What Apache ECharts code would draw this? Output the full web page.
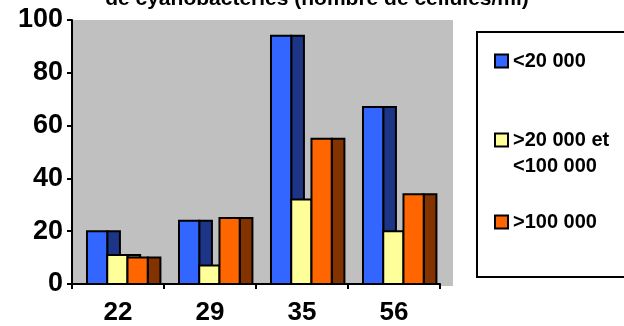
<!DOCTYPE html>
<html>
<head>
<meta charset="utf-8">
<script src="https://cdn.jsdelivr.net/npm/echarts@6/dist/echarts.min.js"></script>
<style>
  html, body { margin: 0; padding: 0; background: #fff; }
  #chart { width: 624px; height: 326px; }
</style>
</head>
<body>
<div id="chart"></div>
<script>
// categories on the x axis
const categories = ['22', '29', '35', '56'];
// series names (legend)
const seriesNames = ['<20 000', '>20 000 et <100 000', '>100 000'];
// values per series, one per category
const lowValues = [20, 24, 94, 67];
const midValues = [11, 7, 32, 20];
const highValues = [10, 25, 55, 34];
const yTicks = [0, 20, 40, 60, 80, 100];

const FONT = "'Liberation Sans', Arial, sans-serif";

// front / side colours (excel-ish 3d column)
const frontColors = ['#3366ff', '#ffff99', '#ff6600'];
const sideColors = ['#1c3587', '#8a8a52', '#833300'];

const chart = echarts.init(document.getElementById('chart'));

const makeRender = (k) => (params, api) => {
  const idx = api.value(0);
  const top = api.coord([idx, api.value(1)]);
  const base = api.coord([idx, 0]);
  const band = api.size([1, 0])[0];
  const start = top[0] - band / 2;
  const frontW = band * 0.22;
  const sideW = band * 0.138;
  const x = start + band * 0.163 + k * frontW;
  const h = base[1] - top[1];
  const stroke = { stroke: '#000', lineWidth: 2 };
  return {
    type: 'group',
    children: [
      {
        type: 'rect',
        z2: k * 10,
        shape: { x: x + frontW, y: top[1], width: sideW, height: h },
        style: { fill: sideColors[k], ...stroke }
      },
      {
        type: 'rect',
        z2: k * 10 + 1,
        shape: { x: x, y: top[1], width: frontW, height: h },
        style: { fill: frontColors[k], ...stroke }
      }
    ]
  };
};

const allValues = [lowValues, midValues, highValues];

const legendBase = {
  orient: 'vertical',
  left: 494,
  padding: 0,
  icon: 'rect',
  itemWidth: 13,
  itemHeight: 13,
  selectedMode: false,
  itemStyle: { borderColor: '#000', borderWidth: 2 },
  textStyle: { fontFamily: FONT, fontWeight: 'bold', fontSize: 20, color: '#000', lineHeight: 20 }
};

const option = {
  animation: false,
  grid: {
    left: 72, right: 184, top: 20, bottom: 40,
    show: true, backgroundColor: '#c0c0c0', borderWidth: 0
  },
  legend: [
    { ...legendBase, top: 51, data: [seriesNames[0]] },
    { ...legendBase, top: 130, data: [seriesNames[1]], formatter: () => '>20 000 et' },
    { ...legendBase, top: 212, data: [seriesNames[2]] }
  ],
  graphic: [
    {
      type: 'rect', z: -1,
      shape: { x: 440, y: 20, width: 13, height: 266 },
      style: { fill: '#c0c0c0' }
    },
    {
      type: 'rect',
      shape: { x: 477, y: 32, width: 160, height: 245 },
      style: { fill: '#fff', stroke: '#000', lineWidth: 2 }
    },
    {
      type: 'text', x: 513, y: 166,
      style: {
        text: '<100 000', fontFamily: FONT, fontWeight: 'bold', fontSize: 20,
        fill: '#000', verticalAlign: 'middle'
      }
    },
    {
      type: 'text', x: 317, y: 10,
      style: {
        text: 'de cyanobactéries (nombre de cellules/ml)', fontFamily: FONT,
        fontWeight: 'bold', fontSize: 21, fill: '#000', align: 'center', verticalAlign: 'bottom'
      }
    }
  ],
  xAxis: {
    type: 'category',
    data: categories,
    boundaryGap: true,
    axisLine: { lineStyle: { color: '#000', width: 2 } },
    axisTick: { show: true, length: 5, lineStyle: { color: '#000', width: 2 } },
    axisLabel: { fontFamily: FONT, fontWeight: 'bold', fontSize: 26, color: '#000', margin: 16 },
    splitLine: { show: false }
  },
  yAxis: {
    type: 'value',
    min: yTicks[0],
    max: yTicks[yTicks.length - 1],
    interval: 20,
    axisLine: { show: true, lineStyle: { color: '#000', width: 2 } },
    axisTick: { show: true, length: 5, lineStyle: { color: '#000', width: 2 } },
    axisLabel: { fontFamily: FONT, fontWeight: 'bold', fontSize: 27, color: '#000', margin: 9 },
    splitLine: { show: false }
  },
  series: allValues.map((vals, k) => ({
    name: seriesNames[k],
    type: 'custom',
    renderItem: makeRender(k),
    itemStyle: { color: frontColors[k] },
    encode: { x: 0, y: 1 },
    data: vals.map((v, i) => [i, v])
  }))
};

chart.setOption(option);
</script>
</body>
</html>
